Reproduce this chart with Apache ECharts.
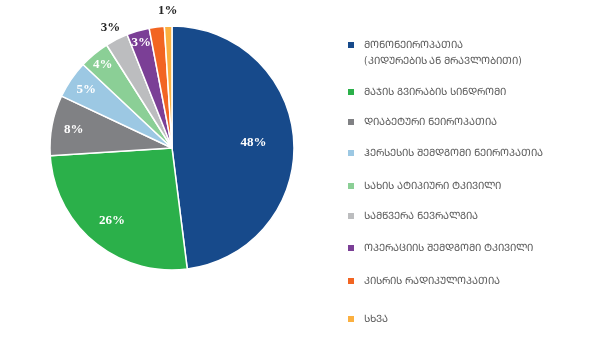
<!DOCTYPE html>
<html>
<head>
<meta charset="utf-8">
<script src="https://cdn.jsdelivr.net/npm/echarts@6/dist/echarts.min.js"></script>
<style>
  html, body { margin: 0; padding: 0; background: #ffffff; }
  #chart { width: 600px; height: 340px; }
</style>
</head>
<body>
<div id="chart"></div>
<script>
// Pain categories and their shares (%)
const categories = [
  'მონონეიროპათია\n(კიდურების ან მრავლობითი)',
  'მაჯის გვირაბის სინდრომი',
  'დიაბეტური ნეიროპათია',
  'ჰერსესის შემდგომი ნეიროპათია',
  'სახის ატიპიური ტკივილი',
  'სამწვერა ნევრალგია',
  'ოპერაციის შემდგომი ტკივილი',
  'კისრის რადიკულოპათია',
  'სხვა'
];
const shares = [48, 26, 8, 5, 4, 3, 3, 2, 1];
const colors = ['#174a8b', '#2bb04a', '#808184', '#9cc8e3', '#8bcf96', '#bcbdbf', '#7b3f96', '#f26522', '#fbb040'];

// Georgian capitals (Mtavruli) sit 0xBC0 above the Mkhedruli letters
const toCaps = s => s.replace(/[\u10D0-\u10FA]/g, ch => String.fromCharCode(ch.charCodeAt(0) + 0xBC0));

// Pie geometry and per-slice label placement (distance as a fraction of the radius)
const CX = 172, CY = 148, R = 122;
const labelRatio = [0.67, 0.77, 0.82, 0.85, 0.89, 1.11, 0.9, 0.9, 1.13];
const labelInside = [true, true, true, true, true, false, true, true, false];
const labelShown = [true, true, true, true, true, true, true, false, true];
// Legend rows: centre of each icon, in px from the top
const legendRows = [45, 92, 122, 153, 186, 216, 248, 281, 319];

const total = shares.reduce((a, b) => a + b, 0);
const midAngles = [];
let acc = 0;
shares.forEach(v => { midAngles.push((acc + v / 2) / total * Math.PI * 2); acc += v; });

const names = categories.map(toCaps);

const data = shares.map((v, i) => ({
  name: names[i],
  value: v,
  itemStyle: { color: colors[i] },
  label: {
    show: labelShown[i],
    color: labelInside[i] ? '#ffffff' : '#262626'
  }
}));

const legends = names.map((n, i) => ({
  data: [n],
  orient: 'vertical',
  left: 346,
  top: legendRows[i] - (i === 0 ? 24 : 8),
  itemWidth: 8,
  itemHeight: 8,
  icon: 'rect',
  selectedMode: false,
  formatter: i === 0 ? (t => '\n' + t) : undefined,
  textStyle: {
    fontFamily: '"DejaVu Sans Condensed", "DejaVu Sans", sans-serif',
    fontSize: 10,
    color: '#595959',
    lineHeight: 16,
    padding: [0, 0, 0, 4]
  },
  itemGap: 0,
  padding: 0
}));

const chart = echarts.init(document.getElementById('chart'), null, { renderer: 'canvas' });
chart.setOption({
  backgroundColor: '#ffffff',
  animation: false,
  legend: legends,
  series: [{
    type: 'pie',
    center: [CX, CY],
    radius: [0, R],
    startAngle: 90,
    clockwise: true,
    avoidLabelOverlap: false,
    itemStyle: { borderColor: '#ffffff', borderWidth: 1.5 },
    label: {
      position: 'inside',
      formatter: p => p.value + '%',
      fontFamily: '"Liberation Serif", "DejaVu Serif", serif',
      fontWeight: 'bold',
      fontSize: 13
    },
    labelLine: { show: false },
    labelLayout: p => {
      const a = midAngles[p.dataIndex];
      const d = R * labelRatio[p.dataIndex];
      return {
        x: CX + Math.sin(a) * d,
        y: CY - Math.cos(a) * d,
        align: 'center',
        verticalAlign: 'middle'
      };
    },
    data: data
  }]
});
</script>
</body>
</html>
